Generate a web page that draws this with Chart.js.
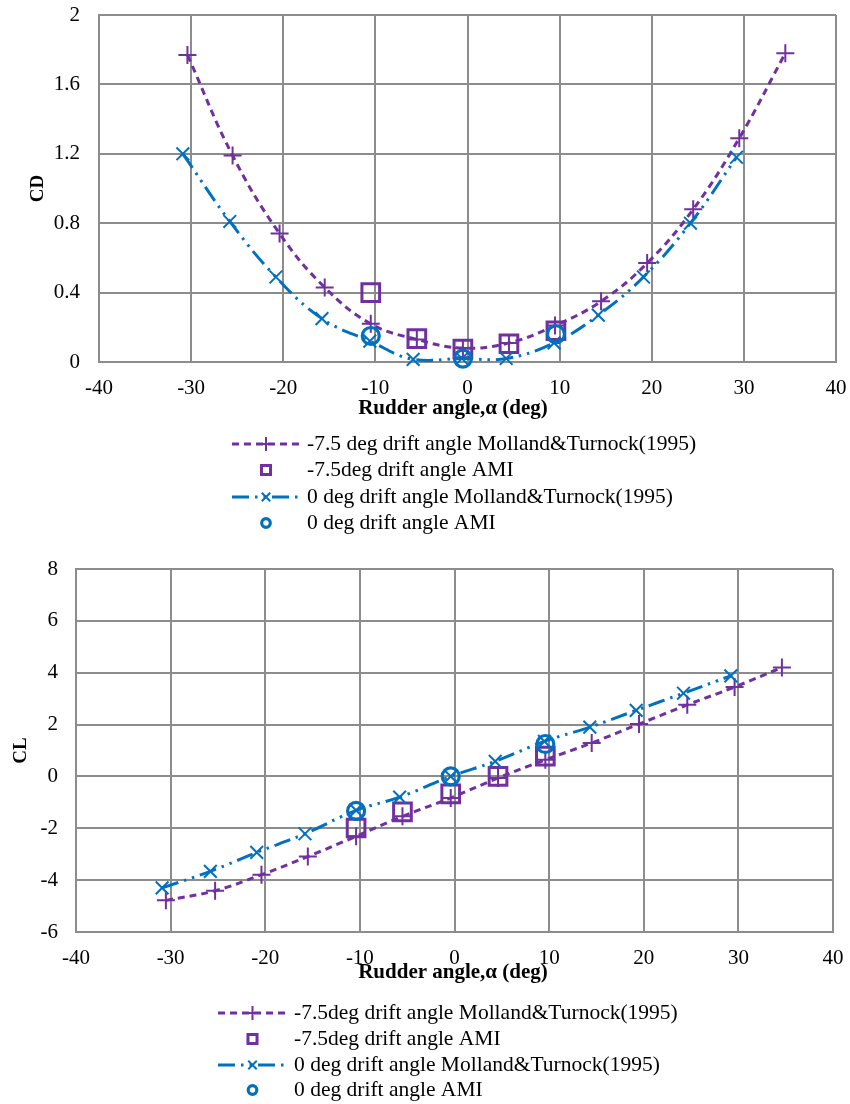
<!DOCTYPE html>
<html>
<head>
<meta charset="utf-8">
<script src="https://cdn.jsdelivr.net/npm/chart.js@4/dist/chart.umd.min.js"></script>
<style>
  html, body { margin: 0; padding: 0; background: #fff; }
  #wrap { position: relative; width: 850px; height: 1104px; }
  canvas { position: absolute; left: 0; }
</style>
</head>
<body>
<div id="wrap">
  <canvas id="cdChart" width="850" height="560" style="top:0"></canvas>
  <canvas id="clChart" width="850" height="544" style="top:560px"></canvas>
</div>
<script>
// ---- Axis ticks ----
const angleTicks = [-40, -30, -20, -10, 0, 10, 20, 30, 40];
const cdTicks = [0, 0.4, 0.8, 1.2, 1.6, 2];
const clTicks = [-6, -4, -2, 0, 2, 4, 6, 8];

// ---- Series names ----
const cdSeriesNames = [
  '-7.5 deg drift angle Molland&Turnock(1995)',
  '-7.5deg drift angle AMI',
  '0 deg drift angle Molland&Turnock(1995)',
  '0 deg drift angle AMI'
];
const clSeriesNames = [
  '-7.5deg drift angle Molland&Turnock(1995)',
  '-7.5deg drift angle AMI',
  '0 deg drift angle Molland&Turnock(1995)',
  '0 deg drift angle AMI'
];

// ---- Drag coefficient CD vs rudder angle (deg) ----
const cdAngleMT75 = [-30.4, -25.5, -20.4, -15.5, -10.5, -5.5, -0.5, 4.5, 9.5, 14.5, 19.5, 24.5, 29.5, 34.5];
const cdMT75      = [1.77, 1.19, 0.74, 0.43, 0.22, 0.13, 0.08, 0.11, 0.21, 0.35, 0.57, 0.88, 1.29, 1.78];
const cdAngleAMI75 = [-10.5, -5.5, -0.5, 4.5, 9.6];
const cdAMI75      = [0.40, 0.135, 0.075, 0.105, 0.18];
const cdAngleMT0 = [-30.9, -25.8, -20.8, -15.8, -10.6, -5.9, -0.6, 4.2, 9.4, 14.2, 19.1, 24.2, 29.2];
const cdMT0      = [1.20, 0.81, 0.49, 0.25, 0.12, 0.015, 0.02, 0.02, 0.11, 0.27, 0.49, 0.80, 1.18];
const cdAngleAMI0 = [-10.5, -0.5, 9.6];
const cdAMI0      = [0.15, 0.02, 0.16];

// ---- Lift coefficient CL vs rudder angle (deg) ----
const clAngleMT75 = [-30.5, -25.3, -20.4, -15.5, -10.4, -5.5, -0.4, 4.6, 9.6, 14.5, 19.5, 24.6, 29.6, 34.6];
const clMT75      = [-4.78, -4.41, -3.79, -3.09, -2.31, -1.54, -0.83, -0.06, 0.64, 1.29, 2.02, 2.76, 3.45, 4.20];
const clAngleAMI75 = [-10.4, -5.5, -0.4, 4.6, 9.6];
const clAMI75      = [-1.99, -1.37, -0.67, 0.0, 0.78];
const clAngleMT0 = [-30.9, -25.8, -20.9, -15.8, -10.4, -5.8, -0.4, 4.3, 9.5, 14.3, 19.2, 24.2, 29.2];
const clMT0      = [-4.30, -3.66, -2.93, -2.21, -1.31, -0.80, 0.0, 0.58, 1.35, 1.90, 2.55, 3.21, 3.88];
const clAngleAMI0 = [-10.4, -0.4, 9.6];
const clAMI0      = [-1.33, 0.0, 1.25];

// ---- Styling ----
const PURPLE = '#7030A0';
const BLUE = '#0070C0';
const GRID = '#8c8c8c';
const SERIF = "'Liberation Serif', 'Times New Roman', serif";

const seriesStyles = [
  { color: PURPLE, line: true,  dash: [7, 5],               point: 'cross',    r: 9,    pw: 2,   legendR: 7 },
  { color: PURPLE, line: false, dash: [],                   point: 'rect',     r: 12.5, pw: 3,   legendR: 6.4 },
  { color: BLUE,   line: true,  dash: [17, 6, 2.5, 6, 2.5, 6], point: 'crossRot', r: 9, pw: 2,   legendR: 6 },
  { color: BLUE,   line: false, dash: [],                   point: 'circle',   r: 8.5,  pw: 3.2, legendR: 4.3 }
];

function buildDatasets(names, xs, ys) {
  return seriesStyles.map((st, i) => ({
    label: names[i],
    data: xs[i].map((x, k) => ({ x: x, y: ys[i][k] })),
    showLine: st.line,
    borderColor: st.color,
    borderWidth: 3,
    borderDash: st.dash,
    tension: 0.4,
    pointStyle: st.point,
    pointRadius: st.r,
    pointBorderWidth: st.pw,
    pointBorderColor: st.color,
    pointBackgroundColor: 'rgba(0,0,0,0)',
    clip: false,
    order: seriesStyles.length - i,
    legendRadius: st.legendR
  }));
}

// Legend drawn under the plot: line sample with marker, then the series name
const seriesLegend = {
  id: 'seriesLegend',
  afterDraw(chart, args, opts) {
    const ctx = chart.ctx;
    ctx.save();
    chart.data.datasets.forEach((ds, i) => {
      const y = opts.rows[i];
      const x0 = opts.lineX, x1 = opts.lineX + opts.lineW, xm = (x0 + x1) / 2;
      ctx.strokeStyle = ds.borderColor;
      if (ds.showLine) {
        ctx.lineWidth = ds.borderWidth;
        ctx.setLineDash(ds.borderDash);
        ctx.beginPath();
        ctx.moveTo(x0, y);
        ctx.lineTo(x1, y);
        ctx.stroke();
      }
      ctx.setLineDash([]);
      ctx.lineWidth = ds.pointBorderWidth;
      ctx.fillStyle = 'rgba(0,0,0,0)';
      Chart.helpers.drawPoint(ctx, {
        pointStyle: ds.pointStyle, radius: ds.legendRadius,
        borderWidth: ds.pointBorderWidth, rotation: 0
      }, xm, y);
      ctx.fillStyle = '#000';
      ctx.font = opts.fontSize + 'px ' + SERIF;
      ctx.textAlign = 'left';
      ctx.textBaseline = 'middle';
      ctx.fillText(ds.label, opts.textX, y);
    });
    ctx.restore();
  }
};

// Axis titles
const axisCaptions = {
  id: 'axisCaptions',
  afterDraw(chart, args, opts) {
    const ctx = chart.ctx, a = chart.chartArea;
    ctx.save();
    ctx.fillStyle = '#000';
    ctx.textAlign = 'center';
    ctx.textBaseline = 'middle';
    ctx.font = 'bold 21px ' + SERIF;
    ctx.fillText(opts.xText, opts.xTitleX, opts.xTitleY);
    ctx.translate(opts.yTitleX, (a.top + a.bottom) / 2);
    ctx.rotate(-Math.PI / 2);
    ctx.font = 'bold 19px ' + SERIF;
    ctx.fillText(opts.yText, 0, 0);
    ctx.restore();
  }
};

function makeChart(canvasId, cfg) {
  return new Chart(document.getElementById(canvasId), {
    type: 'scatter',
    data: { datasets: cfg.datasets },
    options: {
      responsive: false,
      animation: false,
      devicePixelRatio: 1,
      events: [],
      layout: { padding: cfg.padding, autoPadding: false },
      plugins: {
        legend: { display: false },
        tooltip: { enabled: false },
        seriesLegend: cfg.legend,
        axisCaptions: cfg.captions
      },
      scales: {
        x: {
          type: 'linear',
          min: -40, max: 40,
          afterBuildTicks: s => { s.ticks = angleTicks.map(v => ({ value: v })); },
          afterFit: s => { s.height = cfg.xAxisHeight; s.paddingLeft = 0; s.paddingRight = 0; },
          grid: { color: GRID, lineWidth: 2, drawTicks: false },
          border: { color: GRID, width: 2 },
          ticks: {
            padding: cfg.xTickPad,
            maxRotation: 0,
            autoSkip: false,
            color: '#000',
            font: { family: SERIF, size: 21, lineHeight: 1.2 },
            callback: v => String(v)
          }
        },
        y: {
          type: 'linear',
          min: cfg.yMin, max: cfg.yMax,
          afterBuildTicks: s => { s.ticks = cfg.yTicks.map(v => ({ value: v })); },
          afterFit: s => { s.width = cfg.yAxisWidth; s.paddingTop = 0; s.paddingBottom = 0; },
          grid: { color: GRID, lineWidth: 2, drawTicks: false },
          border: { color: GRID, width: 2 },
          ticks: {
            padding: cfg.yTickPad,
            autoSkip: false,
            color: '#000',
            font: { family: SERIF, size: 21, lineHeight: 1.2 },
            callback: v => String(v)
          }
        }
      }
    },
    plugins: [seriesLegend, axisCaptions]
  });
}

makeChart('cdChart', {
  datasets: buildDatasets(cdSeriesNames,
    [cdAngleMT75, cdAngleAMI75, cdAngleMT0, cdAngleAMI0],
    [cdMT75, cdAMI75, cdMT0, cdAMI0]),
  padding: { top: 15, left: 0, right: 14, bottom: 158 },
  xAxisHeight: 40, xTickPad: 14, yAxisWidth: 99, yTickPad: 19,
  yMin: 0, yMax: 2, yTicks: cdTicks,
  legend: { rows: [444, 470, 497, 523], lineX: 232, lineW: 68, textX: 307, fontSize: 21.5 },
  captions: { xText: 'Rudder angle,\u03B1 (deg)', xTitleX: 453, xTitleY: 409, yText: 'CD', yTitleX: 38 }
});

makeChart('clChart', {
  datasets: buildDatasets(clSeriesNames,
    [clAngleMT75, clAngleAMI75, clAngleMT0, clAngleAMI0],
    [clMT75, clAMI75, clMT0, clAMI0]),
  padding: { top: 9, left: 0, right: 17, bottom: 132 },
  xAxisHeight: 40, xTickPad: 14, yAxisWidth: 76, yTickPad: 18,
  yMin: -6, yMax: 8, yTicks: clTicks,
  legend: { rows: [453, 479, 505, 530], lineX: 218, lineW: 69, textX: 294, fontSize: 21.5 },
  captions: { xText: 'Rudder angle,\u03B1 (deg)', xTitleX: 453, xTitleY: 413, yText: 'CL', yTitleX: 21 }
});
</script>
</body>
</html>
